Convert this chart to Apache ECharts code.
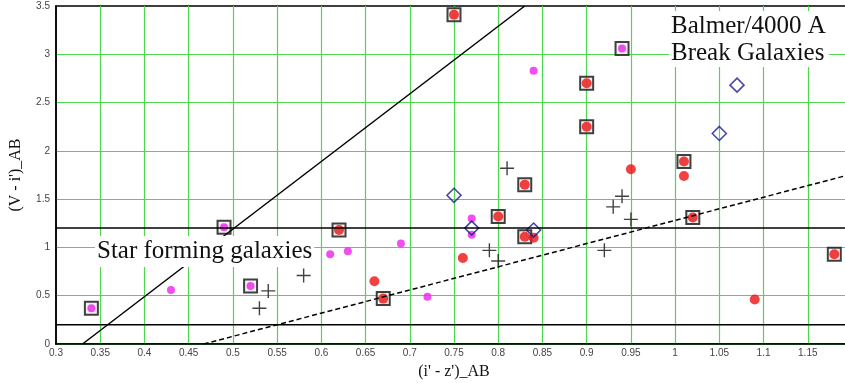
<!DOCTYPE html>
<html>
<head>
<meta charset="utf-8">
<script src="https://cdn.jsdelivr.net/npm/echarts@6/dist/echarts.min.js"></script>
<style>
  html, body { margin: 0; padding: 0; background: #fff; }
  #chart { width: 845px; height: 383px; }
</style>
</head>
<body>
<div id="chart"></div>
<script>
// data: [ (i'-z')_AB , (V-i')_AB ]
var redPlain = [[0.95, 1.81], [1.01, 1.74], [0.84, 1.10], [0.76, 0.89], [0.66, 0.65], [1.09, 0.46]];
var redBoxed = [[0.75, 3.41], [0.90, 2.70], [0.90, 2.25], [1.01, 1.89], [0.83, 1.65], [0.80, 1.32],
                [0.62, 1.18], [0.83, 1.11], [0.67, 0.47], [1.02, 1.31], [1.18, 0.93]];
var magentaPlain = [[0.43, 0.56], [0.61, 0.93], [0.63, 0.96], [0.69, 1.04], [0.72, 0.49],
                    [0.77, 1.30], [0.77, 1.13], [0.84, 2.83]];
var magentaBoxed = [[0.34, 0.37], [0.49, 1.21], [0.52, 0.60], [0.94, 3.06]];
var diamonds = [[0.75, 1.54], [0.77, 1.20], [0.84, 1.18], [1.05, 2.18], [1.07, 2.68]];
var crosses = [[0.53, 0.37], [0.54, 0.55], [0.58, 0.71], [0.79, 0.97], [0.80, 0.86], [0.81, 1.82],
               [0.92, 0.97], [0.93, 1.42], [0.94, 1.53], [0.95, 1.29]];

// selection lines
var diagLine = [[0.33, 0], [0.83, 3.5]];
var dashLine = [[0.467, 0], [1.2, 1.76]];
var upperCut = [[0.3, 1.2], [1.2, 1.2]];
var lowerCut = [[0.3, 0.2], [1.2, 0.2]];

var xMin = 0.3, xMax = 1.2, xStep = 0.05;
var yMin = 0, yMax = 3.5, yStep = 0.5;

var serif = '"Liberation Serif", "DejaVu Serif", serif';
var tickFont = { fontFamily: '"Liberation Sans", Arial, sans-serif', fontSize: 10, color: '#444' };
var gridGreen = '#4fd84f';

function lineSeries(data, dashed) {
  return {
    type: 'line',
    data: data,
    symbol: 'none',
    silent: true,
    lineStyle: { color: '#000', width: 1.5, type: dashed ? [5, 3] : 'solid' }
  };
}

var plus = 'path://M6.3,0h1.4v6.3h6.3v1.4h-6.3v6.3h-1.4v-6.3h-6.3v-1.4h6.3z';

var chart = echarts.init(document.getElementById('chart'));
chart.setOption({
  animation: false,
  backgroundColor: '#fff',
  // plot runs past the right edge of the picture (1.2 sits just off-canvas)
  grid: {
    left: 56, width: 796, top: 6, height: 338, outerBoundsMode: 'none',
    show: true, borderColor: '#000', borderWidth: 1.5
  },
  xAxis: {
    type: 'value', min: xMin, max: xMax, interval: xStep,
    name: "(i' - z')_AB", nameLocation: 'middle', nameGap: 20,
    nameTextStyle: { fontFamily: serif, fontSize: 16, color: '#111' },
    axisLine: { show: true, lineStyle: { color: '#000', width: 1.5 } },
    axisTick: { show: false },
    axisLabel: Object.assign({ margin: 4 }, tickFont),
    splitLine: { show: true, showMinLine: false, lineStyle: { color: gridGreen, width: 1.2 } }
  },
  yAxis: {
    type: 'value', min: yMin, max: yMax, interval: yStep,
    name: "(V - i')_AB", nameLocation: 'middle', nameGap: 32, nameRotate: 90,
    nameTextStyle: { fontFamily: serif, fontSize: 16, color: '#111' },
    axisLine: { show: true, lineStyle: { color: '#000', width: 1.5 } },
    axisTick: { show: false },
    axisLabel: Object.assign({ margin: 6 }, tickFont),
    splitLine: { show: true, showMaxLine: false, lineStyle: { color: gridGreen, width: 1.2 } }
  },
  series: [
    lineSeries(upperCut, false),
    lineSeries(lowerCut, false),
    lineSeries(diagLine, false),
    lineSeries(dashLine, true),
    {
      type: 'scatter', data: redBoxed.concat(magentaBoxed), symbol: 'rect', symbolSize: 13,
      itemStyle: { color: '#eeeeee', borderColor: '#111', borderWidth: 2 }
    },
    { type: 'scatter', data: redPlain.concat(redBoxed), symbolSize: 10, itemStyle: { color: '#ee1111' } },
    { type: 'scatter', data: magentaPlain.concat(magentaBoxed), symbolSize: 8, itemStyle: { color: '#ee22ee' } },
    {
      type: 'scatter', data: diamonds, symbol: 'diamond', symbolSize: 14,
      itemStyle: { color: 'rgba(0,0,0,0)', borderColor: '#1a1a8a', borderWidth: 1.6 }
    },
    { type: 'scatter', data: crosses, symbol: plus, symbolSize: 14, itemStyle: { color: '#111' } }
  ],
  graphic: [
    {
      type: 'text', left: 669, top: 11, z: 100,
      style: {
        text: 'Balmer/4000 A\nBreak Galaxies', fontFamily: serif, fontSize: 25, lineHeight: 27,
        fill: '#111', backgroundColor: '#fff', padding: [2, 3, 0, 2]
      }
    },
    {
      type: 'text', left: 95, top: 236, z: 100,
      style: {
        text: 'Star forming galaxies', fontFamily: serif, fontSize: 25, lineHeight: 28,
        fill: '#111', backgroundColor: '#fff', padding: [1, 2, 2, 2]
      }
    }
  ]
});
</script>
</body>
</html>
